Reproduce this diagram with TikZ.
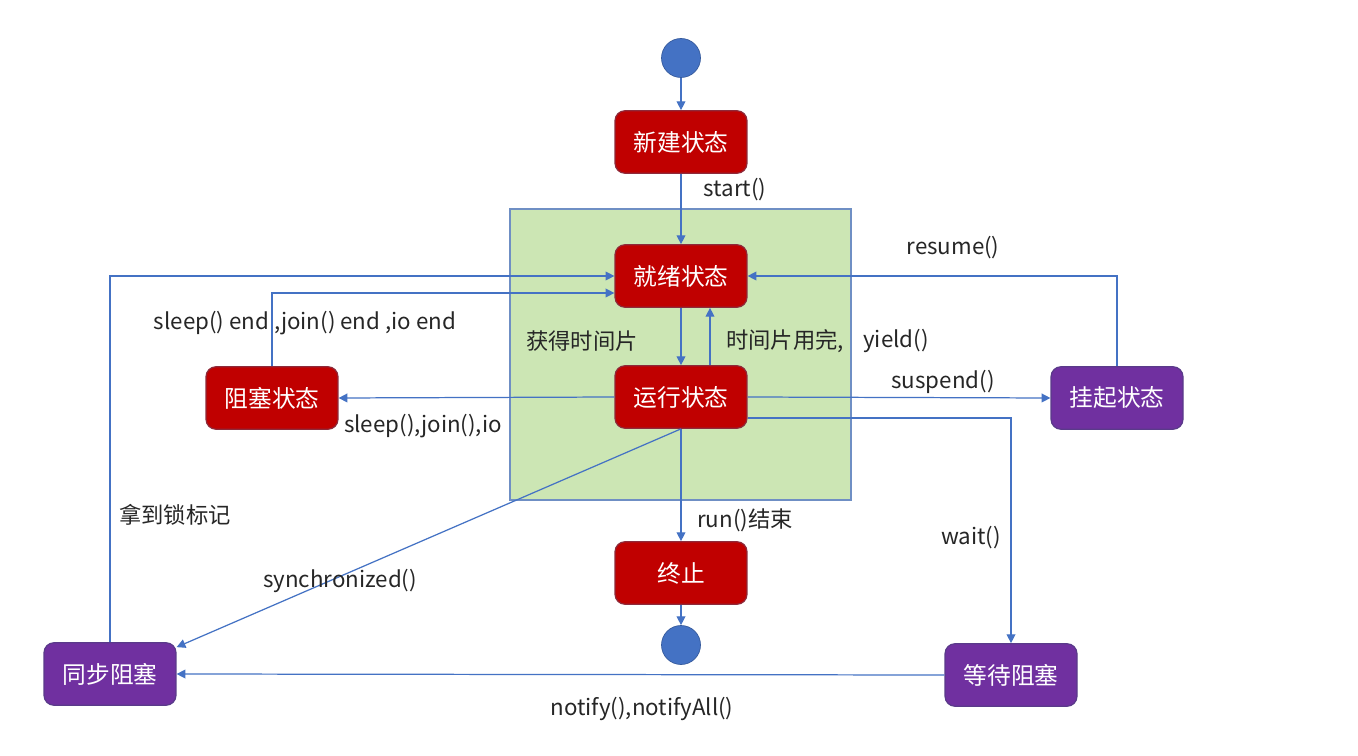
\documentclass[tikz,border=0pt]{standalone}
\usepackage{fontspec}
\setmainfont{Noto Sans CJK SC}
\usetikzlibrary{arrows.meta,calc}
\definecolor{boxred}{HTML}{C00000}
\definecolor{boxredline}{HTML}{8E2A3A}
\definecolor{boxpurple}{HTML}{7030A0}
\definecolor{boxpurpleline}{HTML}{5A3A8A}
\definecolor{lineblue}{HTML}{4472C4}
\definecolor{greenfill}{HTML}{CCE6B4}
\definecolor{greenline}{HTML}{6F8FC4}
\definecolor{labelgray}{HTML}{262626}
\tikzset{
  statebox/.style={rectangle, rounded corners=0.2cm, minimum width=2.64cm, minimum height=1.25cm, inner sep=0pt, text=white, font=\fontsize{13.5pt}{16pt}\selectfont, line width=0.7pt},
  redbox/.style={statebox, fill=boxred, draw=boxredline},
  purplebox/.style={statebox, fill=boxpurple, draw=boxpurpleline},
  dot/.style={circle, fill=lineblue, draw=lineblue!80!black, line width=0.4pt, minimum size=0.78cm, inner sep=0pt},
  arr/.style={draw=lineblue, line width=0.7pt, -{Triangle[length=5pt,width=5pt]}},
  lbl/.style={text=labelgray, font=\fontsize{12.7pt}{15pt}\selectfont, inner sep=0pt}
}
\begin{document}
\begin{tikzpicture}[x=0.02cm, y=-0.02cm]
\useasboundingbox (0,0) rectangle (1358,756);
\fill[white] (0,0) rectangle (1358,756);
% green region
\draw[fill=greenfill, draw=greenline, line width=0.7pt] (510,209) rectangle (851,500);
% nodes
\node[dot] (start) at (681,58) {};
\node[redbox] (new) at (681,142) {新建状态};
\node[redbox] (ready) at (681,276) {就绪状态};
\node[redbox] (run) at (681,397) {运行状态};
\node[redbox] (blk) at (272,398) {阻塞状态};
\node[redbox] (term) at (681,573) {终止};
\node[dot] (end) at (681,645) {};
\node[purplebox] (susp) at (1117,398) {挂起状态};
\node[purplebox] (sync) at (110,674) {同步阻塞};
\node[purplebox] (wait) at (1011,675) {等待阻塞};
% connectors
\draw[arr] (start) -- (new);
\draw[arr] (new) -- (ready);
\draw[arr] (ready) -- (run);
\draw[arr] ([xshift=0.58cm]run.north) -- ([xshift=0.58cm]ready.south);
\draw[arr] (run.west) -- (blk.east);
\draw[arr] (blk.north) |- ([yshift=-0.34cm]ready.west);
\draw[arr] (sync.north) |- (ready.west);
\draw[arr] (run.east) -- (susp.west);
\draw[arr] (susp.north) |- (ready.east);
\draw[arr] ([yshift=-0.42cm]run.east) -| (wait.north);
\draw[arr] (wait.west) -- (sync.east);
\draw[arr] (run.south) -- ([yshift=-0.1cm]sync.north east);
\draw[arr] (run.south) -- (term.north);
\draw[arr] (term) -- (end);
% labels
\node[lbl] (l1) at (735,190) {start()};
\node[lbl] (l2) at (953,248) {resume()};
\node[lbl] (l3) at (305,323) {sleep() end ,join() end ,io end};
\node[lbl] (l4) at (582,341) {获得时间片};
\node[lbl] (l5) at (785,341) {时间片用完,};
\node[lbl] (l6) at (896,341) {yield()};
\node[lbl] (l7) at (943,382) {suspend()};
\node[lbl] (l8) at (423,426) {sleep(),join(),io};
\node[lbl] (l9) at (175,515) {拿到锁标记};
\node[lbl] (l10) at (745,520) {run()结束};
\node[lbl] (l11) at (971,538) {wait()};
\node[lbl] (l12) at (340,581) {synchronized()};
\node[lbl] (l13) at (642,709) {notify(),notifyAll()};
\end{tikzpicture}
\end{document}
